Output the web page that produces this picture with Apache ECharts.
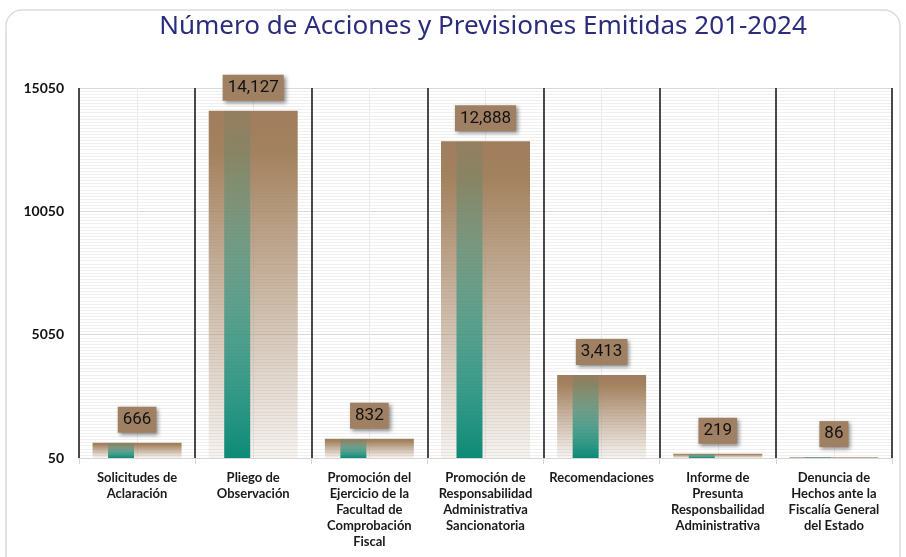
<!DOCTYPE html>
<html>
<head>
<meta charset="utf-8">
<script src="https://cdn.jsdelivr.net/npm/echarts@6/dist/echarts.min.js"></script>
<style>
  html, body { margin: 0; padding: 0; background: #fff; }
  #chart { width: 906px; height: 557px; }
</style>
</head>
<body>
<div id="chart"></div>
<script>
// datos
const categories = [
  'Solicitudes de\nAclaración',
  'Pliego de\nObservación',
  'Promoción del\nEjercicio de la\nFacultad de\nComprobación\nFiscal',
  'Promoción de\nResponsabilidad\nAdministrativa\nSancionatoria',
  'Recomendaciones',
  'Informe de\nPresunta\nResponsbailidad\nAdministrativa',
  'Denuncia de\nHechos ante la\nFiscalía General\ndel Estado'
]
const values = [666, 14127, 832, 12888, 3413, 219, 86]
const yMin = 50
const yMax = 15050
const yStep = 5000

const myChart = echarts.init(document.getElementById('chart'))

const option = {
  backgroundColor: '#fff',
  animation: false,
  title: {
    text: 'Número de Acciones y Previsiones Emitidas 201-2024',
    left: 478,
    textAlign: 'center',
    top: 9,
    textStyle: {
      color: '#2b2c7c',
      fontFamily: 'Noto Sans',
      fontWeight: 'normal',
      fontSize: 26
    }
  },
  graphic: [{
    type: 'rect',
    shape: { x: 6, y: 10, width: 894, height: 570, r: 16 },
    style: { fill: 'none', stroke: '#dcdcdc', lineWidth: 1.5 },
    silent: true
  }],
  grid: [
    { left: 79, right: 14, top: 88, bottom: 99 },
    // rejilla desplazada para la barra verde
    { left: 63, right: 30, top: 88, bottom: 99 }
  ],
  xAxis: [
    {
      type: 'category',
      gridIndex: 0,
      data: categories,
      z: 3,
      axisLine: { lineStyle: { color: '#d6d6d6' } },
      axisTick: { show: true, length: 6, lineStyle: { color: '#d6d6d6' } },
      splitLine: { show: true, lineStyle: { color: '#111', width: 1.5 } },
      axisLabel: {
        interval: 0,
        margin: 12,
        color: '#1a1a1a',
        fontFamily: 'Lato',
        fontWeight: 'bold',
        fontSize: 13,
        lineHeight: 16
      }
    },
    {
      type: 'value',
      gridIndex: 0,
      min: 0,
      max: 7,
      interval: 0.5,
      z: 1,
      axisLine: { show: false },
      axisTick: { show: false },
      axisLabel: { show: false },
      splitLine: { show: true, lineStyle: { color: '#e9e9e9' } }
    },
    {
      type: 'category',
      gridIndex: 1,
      data: categories,
      show: false
    }
  ],
  yAxis: [
    {
      type: 'value',
      gridIndex: 0,
      min: yMin,
      max: yMax,
      interval: yStep,
      axisLine: { show: false },
      axisTick: { show: false },
      axisLabel: {
        margin: 15,
        color: '#111',
        fontFamily: 'Lato',
        fontWeight: 'bold',
        fontSize: 14,
        formatter: (v) => String(v)
      },
      splitLine: { show: true, lineStyle: { color: '#dadada' } },
      minorTick: { show: false, splitNumber: 40 },
      minorSplitLine: { show: true, lineStyle: { color: '#f0f0f0' } }
    },
    {
      type: 'value',
      gridIndex: 1,
      min: yMin,
      max: yMax,
      interval: yStep,
      show: false,
      splitLine: { show: false }
    }
  ],
  series: [
    {
      type: 'bar',
      xAxisIndex: 0,
      yAxisIndex: 0,
      data: values,
      barWidth: 89,
      itemStyle: {
        color: new echarts.graphic.LinearGradient(0, 0, 0, 1, [
          { offset: 0, color: '#9f7d5e' },
          { offset: 0.12, color: '#a3825f' },
          { offset: 1, color: 'rgba(170,140,112,0.1)' }
        ])
      },
      label: {
        show: true,
        position: 'top',
        distance: 10,
        formatter: (p) => p.value.toLocaleString('en-US'),
        color: '#111',
        fontFamily: 'Roboto',
        fontSize: 17,
        lineHeight: 18,
        backgroundColor: '#a08062',
        padding: [4, 5],
        shadowColor: 'rgba(0,0,0,0.45)',
        shadowBlur: 4,
        shadowOffsetX: 2,
        shadowOffsetY: 2
      },
      z: 2
    },
    {
      type: 'bar',
      xAxisIndex: 2,
      yAxisIndex: 1,
      data: values,
      barWidth: 26,
      itemStyle: {
        color: new echarts.graphic.LinearGradient(0, 0, 0, 1, [
          { offset: 0, color: 'rgba(20,140,120,0.08)' },
          { offset: 0.45, color: 'rgba(20,140,120,0.5)' },
          { offset: 1, color: 'rgba(13,138,118,1)' }
        ])
      },
      z: 3
    }
  ]
}

myChart.setOption(option)
</script>
</body>
</html>
